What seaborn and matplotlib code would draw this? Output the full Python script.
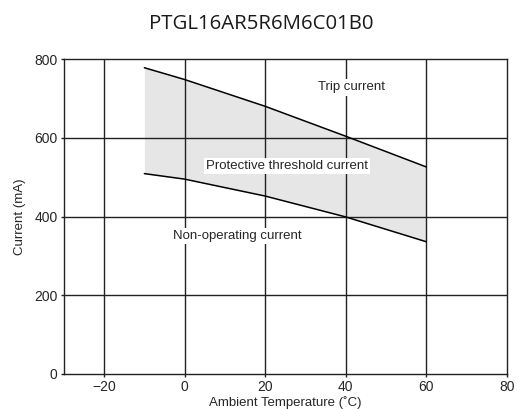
import numpy as np
import pandas as pd
import seaborn as sns
import matplotlib.pyplot as plt

# values
temps = [-10, 0, 20, 40, 60]
trip_current = [778, 748, 680, 604, 526]
non_operating = [509, 495, 452, 399, 336]

df = pd.DataFrame({"temp": temps, "trip": trip_current, "nonop": non_operating})

sns.set_style("white")
plt.rcParams["font.family"] = ["Liberation Sans", "DejaVu Sans"]

fig = plt.figure(figsize=(5.23, 4.09), dpi=100)
ax = fig.add_axes([0.122, 0.0856, 0.847, 0.770])

ax.fill_between(df["temp"], df["nonop"], df["trip"], color="#e6e6e6", lw=0, zorder=1)
for x in [-20, 0, 20, 40, 60]:
    ax.axvline(x, color="#222222", lw=1, zorder=2)
for y in [200, 400, 600]:
    ax.axhline(y, color="#222222", lw=1, zorder=2)
sns.lineplot(data=df, x="temp", y="trip", color="black", lw=1.1, ax=ax, zorder=3)
sns.lineplot(data=df, x="temp", y="nonop", color="black", lw=1.1, ax=ax, zorder=3)

box = dict(facecolor="white", edgecolor="none", pad=1.5)
ax.text(41.5, 728, "Trip current", ha="center", va="center", fontsize=9.5, bbox=box, zorder=4)
ax.text(25.5, 528, "Protective threshold current", ha="center", va="center", fontsize=9.5,
        bbox=box, zorder=4)
ax.text(13, 350, "Non-operating current", ha="center", va="center", fontsize=9.5,
        bbox=box, zorder=4)

ax.set_xlim(-30, 80)
ax.set_ylim(0, 800)
ax.set_xticks([-20, 0, 20, 40, 60, 80])
ax.set_xticklabels(["\u221220", "0", "20", "40", "60", "80"])
ax.set_yticks([0, 200, 400, 600, 800])
ax.tick_params(labelsize=10, length=2.5, width=1, color="#222222", pad=2,
               bottom=True, left=True)
ax.set_xlabel("Ambient Temperature (\u02daC)", fontsize=9.5, labelpad=1)
ax.set_ylabel("Current (mA)", fontsize=9.5, labelpad=6)
for s in ax.spines.values():
    s.set_color("#222222")
    s.set_linewidth(1)

fig.text(0.5, 0.942, "PTGL16AR5R6M6C01B0", ha="center", va="center", fontsize=14.7,
         fontweight="normal", family=["Open Sans", "DejaVu Sans"], color="#1a1a1a")

fig.savefig("out.png", dpi=100)
